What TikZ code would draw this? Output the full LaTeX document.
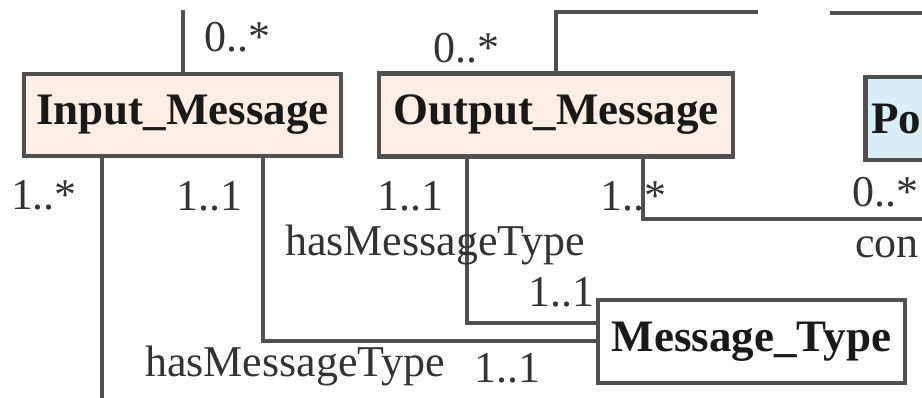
\documentclass[tikz,border=0pt]{standalone}
\usepackage{fontspec}
\setmainfont{Liberation Serif}
\usepackage{tikz}
\usetikzlibrary{positioning}
\definecolor{msgfill}{HTML}{FCEEE4}
\definecolor{polfill}{HTML}{D6EEF4}
\definecolor{linegray}{HTML}{505050}

\begin{document}
\begin{tikzpicture}[x=1pt, y=-1pt,
  classbox/.style={draw=linegray, line width=4.5pt, fill=msgfill, inner sep=0pt,
    text=black!90, font=\fontsize{45}{50}\selectfont\bfseries},
  assoc/.style={draw=linegray, line width=4pt},
  mult/.style={inner sep=0pt, text=black!80, font=\fontsize{44}{48}\selectfont}]
\useasboundingbox (0,0) rectangle (922,398);
\clip (0,0) rectangle (922,398);
% Classes
\node[classbox, minimum width=317pt, minimum height=82pt] (inmsg) at (182.5,115) {Input\_Message};
\node[classbox, minimum width=354pt, minimum height=83pt] (outmsg) at (556,115) {Output\_Message};
\node[classbox, fill=polfill, anchor=north west, minimum height=83pt, text width=180pt,
  inner xsep=6pt, align=left] (pol) at (863,75) {Po};
\node[classbox, fill=white, minimum width=307pt, minimum height=83pt] (mtype) at (751.5,341.5) {Message\_Type};
% Free ends
\coordinate (inTop) at (182.5,10);
\coordinate (outTop) at (758,12);
\coordinate (polA) at (830,13);
\coordinate (polB) at (930,13);
\coordinate (inBot) at (102,400);
\coordinate (conEnd) at (930,219);
% Associations
\draw[assoc] (inmsg.north) -- (inTop);
\draw[assoc] (outmsg.north) |- (outTop);
\draw[assoc] (polA) -- (polB);
\draw[assoc] (inmsg.south -| inBot) -- (inBot);
\draw[assoc] ([xshift=80pt]inmsg.south) |- (mtype.west);
\draw[assoc] ([xshift=-89pt]outmsg.south) |- ([yshift=18pt]mtype.west);
\draw[assoc] ([xshift=87pt]outmsg.south) |- (conEnd);
% Multiplicities and roles
\node[mult] (m1) at (237,37) {0..*};
\node[mult] (m2) at (466,48) {0..*};
\node[mult] (m3) at (44,195) {1..*};
\node[mult] (m4) at (209,196) {1..1};
\node[mult] (m5) at (410,196) {1..1};
\node[mult] (m6) at (633,196) {1..*};
\node[mult] (m7) at (885,192) {0..*};
\node[mult] (r1) at (435,245) {hasMessageType};
\node[mult] (m8) at (561,292) {1..1};
\node[mult] (r2) at (295,366) {hasMessageType};
\node[mult] (m9) at (507,368) {1..1};
\node[mult, anchor=west] (r3) at (855,247) {con};
\end{tikzpicture}
\end{document}
